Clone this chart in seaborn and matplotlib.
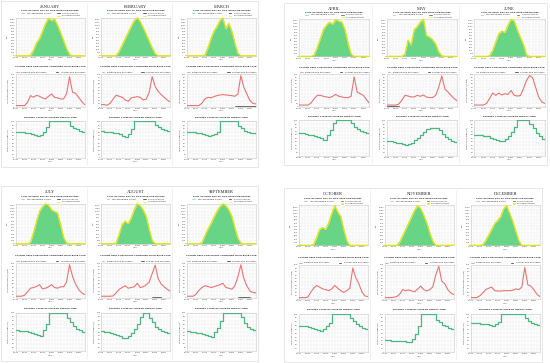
# Peak day PV output, grid purchases and battery state of charge, one column per month

import matplotlib
matplotlib.use("Agg")
import matplotlib.pyplot as plt
from matplotlib.patches import Patch, Rectangle
from matplotlib.lines import Line2D
import numpy as np
import pandas as pd
import seaborn as sns

MONTHS = ['JANUARY', 'FEBRUARY', 'MARCH', 'APRIL', 'MAY', 'JUNE',
          'JULY', 'AUGUST', 'SEPTEMBER', 'OCTOBER', 'NOVEMBER', 'DECEMBER']
HOURS = list(range(24))
HOUR_LABELS = ['12AM', '03AM', '06AM', '09AM', '12PM', '03PM', '06PM', '09PM']

# Total renewable / PV output (kW), hourly
PV_OUTPUT = [
    [0, 0, 0, 0, 0, 20, 180, 420, 560, 800, 1050, 1230, 1150, 1200, 1000, 760, 500, 240, 40, 0, 0, 0, 0, 0],
    [0, 0, 0, 0, 0, 10, 150, 350, 560, 760, 960, 1150, 1240, 1120, 920, 700, 480, 260, 70, 0, 0, 0, 0, 0],
    [0, 0, 0, 0, 0, 0, 20, 250, 550, 800, 950, 1150, 1240, 880, 1060, 800, 420, 80, 0, 0, 0, 0, 0, 0],
    [0, 0, 0, 0, 0, 50, 300, 600, 900, 1050, 1150, 1080, 1240, 1180, 1150, 900, 450, 80, 0, 0, 0, 0, 0, 0],
    [0, 0, 0, 0, 0, 0, 80, 550, 380, 900, 1000, 1150, 1250, 700, 650, 560, 420, 150, 20, 0, 0, 0, 0, 0],
    [0, 0, 0, 0, 0, 20, 200, 480, 760, 850, 800, 1050, 1240, 1200, 900, 650, 420, 60, 0, 0, 0, 0, 0, 0],
    [0, 0, 0, 0, 0, 50, 350, 700, 1000, 1150, 1240, 1200, 1050, 1000, 950, 600, 200, 20, 0, 0, 0, 0, 0, 0],
    [0, 0, 0, 0, 0, 20, 300, 600, 700, 620, 800, 1050, 1240, 1180, 1050, 850, 450, 100, 0, 0, 0, 0, 0, 0],
    [0, 0, 0, 0, 0, 30, 250, 450, 620, 820, 1000, 1150, 1240, 1180, 1050, 850, 500, 180, 20, 0, 0, 0, 0, 0],
    [0, 0, 0, 0, 0, 30, 250, 500, 560, 500, 700, 1000, 1240, 1050, 900, 500, 150, 0, 0, 0, 0, 0, 0, 0],
    [0, 0, 0, 0, 0, 100, 300, 500, 700, 900, 1100, 1240, 1150, 950, 700, 400, 130, 0, 0, 0, 0, 0, 0, 0],
    [0, 0, 0, 0, 20, 150, 320, 500, 680, 780, 900, 1150, 1240, 1000, 750, 450, 150, 0, 0, 0, 0, 0, 0, 0],
]

# Baseline grid purchases (kWh), hourly
BASELINE_GRID = [
    [5, 5, 5, 5, 15, 35, 30, 36, 33, 28, 25, 33, 40, 30, 28, 25, 25, 40, 92, 45, 42, 30, 18, 8],
    [8, 8, 6, 12, 25, 36, 33, 30, 22, 18, 28, 30, 32, 30, 22, 24, 45, 92, 62, 48, 38, 30, 22, 16],
    [5, 5, 5, 5, 5, 12, 25, 30, 28, 32, 35, 37, 38, 37, 36, 35, 33, 40, 95, 60, 40, 20, 12, 10],
    [5, 5, 5, 5, 12, 25, 35, 35, 32, 30, 28, 32, 38, 32, 30, 28, 28, 32, 92, 45, 40, 35, 22, 10],
    [5, 5, 5, 5, 8, 20, 35, 33, 30, 30, 35, 32, 36, 30, 28, 28, 35, 60, 95, 55, 45, 35, 25, 18],
    [5, 5, 5, 5, 10, 25, 42, 35, 42, 36, 40, 38, 50, 35, 33, 34, 55, 80, 96, 90, 60, 30, 15, 10],
    [5, 5, 5, 8, 18, 28, 30, 33, 38, 26, 28, 32, 38, 30, 28, 32, 32, 45, 95, 62, 40, 25, 15, 10],
    [5, 5, 5, 5, 6, 15, 25, 30, 35, 28, 30, 32, 42, 30, 32, 38, 45, 70, 94, 55, 40, 32, 25, 20],
    [5, 5, 5, 10, 22, 30, 35, 33, 30, 32, 35, 38, 42, 30, 28, 25, 35, 60, 95, 55, 35, 20, 16, 15],
    [5, 5, 5, 6, 20, 32, 40, 35, 30, 28, 25, 30, 40, 32, 25, 20, 25, 32, 90, 62, 45, 22, 10, 8],
    [5, 5, 5, 6, 8, 15, 28, 25, 27, 24, 22, 30, 38, 28, 24, 28, 36, 70, 95, 52, 45, 28, 18, 14],
    [5, 5, 5, 10, 18, 28, 32, 35, 25, 24, 24, 25, 25, 25, 26, 30, 28, 35, 92, 42, 38, 28, 15, 8],
]

# System grid purchases (kWh), hourly - mostly zero
SYSTEM_GRID = [
    [0] * 24,
    [0] * 24,
    [0, 0, 0, 0, 0, 0, 0, 0, 0, 0, 0, 0, 0, 0, 0, 0, 3, 3, 3, 3, 3, 3, 3, 3],
    [0] * 24,
    [2, 2, 2, 2, 2, 0, 0, 0, 0, 0, 0, 0, 0, 0, 0, 0, 0, 0, 0, 0, 0, 0, 0, 0],
    [0] * 24,
    [0] * 24,
    [0, 0, 0, 0, 0, 0, 0, 0, 0, 0, 0, 0, 0, 0, 0, 0, 0, 2, 2, 2, 2, 0, 0, 0],
    [0, 0, 0, 0, 0, 0, 0, 0, 0, 0, 0, 0, 0, 0, 0, 0, 0, 2, 2, 2, 2, 2, 0, 0],
    [0, 0, 0, 0, 0, 0, 0, 0, 0, 0, 0, 0, 0, 0, 0, 0, 2, 2, 2, 2, 2, 2, 0, 0],
    [0] * 24,
    [0] * 24,
]

# Battery state of charge (%), hourly
BATTERY_SOC = [
    [72, 71, 70, 69, 68, 66, 62, 60, 63, 70, 85, 100, 100, 100, 100, 100, 100, 100, 88, 82, 78, 74, 71, 69],
    [73, 72, 71, 70, 69, 67, 64, 60, 58, 65, 80, 100, 100, 100, 100, 100, 100, 100, 90, 85, 80, 77, 74, 72],
    [72, 71, 70, 69, 68, 66, 63, 60, 62, 65, 72, 100, 100, 100, 100, 100, 100, 88, 82, 74, 71, 69, 67, 66],
    [65, 64, 62, 60, 58, 56, 53, 50, 46, 58, 72, 92, 100, 100, 100, 100, 100, 92, 83, 76, 71, 68, 65, 63],
    [42, 41, 40, 38, 36, 34, 31, 33, 38, 45, 52, 60, 68, 75, 78, 78, 78, 72, 62, 54, 47, 42, 39, 37],
    [60, 59, 58, 57, 55, 52, 48, 44, 41, 42, 48, 56, 68, 82, 100, 100, 100, 100, 90, 78, 66, 55, 47, 43],
    [55, 54, 53, 52, 50, 48, 45, 42, 40, 55, 72, 100, 100, 100, 100, 100, 100, 86, 76, 66, 59, 55, 51, 48],
    [52, 51, 50, 48, 46, 43, 40, 36, 35, 40, 48, 58, 72, 90, 100, 100, 86, 76, 64, 58, 54, 50, 47, 45],
    [52, 51, 50, 49, 47, 45, 42, 39, 38, 50, 62, 78, 100, 100, 100, 100, 100, 100, 88, 74, 64, 59, 56, 53],
    [70, 69, 68, 66, 64, 62, 58, 55, 60, 68, 78, 100, 100, 100, 100, 100, 100, 90, 82, 75, 69, 65, 62, 60],
    [32, 32, 31, 31, 30, 30, 29, 27, 26, 35, 48, 70, 100, 100, 100, 100, 100, 86, 79, 72, 68, 65, 62, 60],
    [77, 76, 76, 75, 74, 73, 72, 70, 74, 80, 100, 100, 100, 100, 100, 100, 100, 100, 90, 82, 77, 74, 71, 69],
]

GREEN_FILL = '#68d486'
YELLOW = '#dfe31c'
RED = '#e57575'
SOC_GREEN = '#4cb680'
GRID_GRAY = '#e9e9e9'
BOX_GRAY = '#dcdcdc'

W, H = 550, 363
# quadrant frames in pixels (left, top, right, bottom), three months each
QUADRANTS = [(1, 1, 258, 167), (284, 3, 547, 165), (1, 186, 258, 361), (284, 188, 542, 362)]


def rect(left, top, right, bottom):
    # pixel box -> figure fraction [l, b, w, h]
    return [left / W, 1 - bottom / H, (right - left) / W, (bottom - top) / H]


def style_axis(ax, ymax, ystep, ylabel):
    ax.set_xlim(0, 23)
    ax.set_ylim(0, ymax)
    ax.set_xticks(HOURS)
    ax.set_xticklabels([HOUR_LABELS[h // 3] if h % 3 == 0 else '' for h in HOURS])
    ax.set_yticks(np.arange(0, ymax + 1, ystep))
    ax.tick_params(labelsize=1.5, length=0, pad=0.6, colors='#555555')
    ax.grid(True, color=GRID_GRAY, lw=0.3)
    for sp in ax.spines.values():
        sp.set_color('#c8c8c8')
        sp.set_linewidth(0.4)
    ax.set_xlabel('Hour', fontsize=1.6, labelpad=0.8, color='#444444')
    ax.set_ylabel(ylabel, fontsize=1.6, labelpad=0.8, color='#444444')


def draw_month(fig, idx, box, col):
    ql, qt, qr, qb = box
    cw = (qr - ql) / 3
    qh = qb - qt
    x0 = ql + col * cw
    left, right = x0 + 0.17 * cw, x0 + 0.975 * cw
    mid = (left + right) / 2

    def y(frac):
        return qt + frac * qh

    # month title and panel titles
    fig.text(mid / W, 1 - y(0.035) / H, MONTHS[idx], ha='center', va='center',
             fontsize=3.2, family='Liberation Serif', color='#222222')
    fig.text(mid / W, 1 - y(0.058) / H, 'PLOT OF PEAK DAY PV AND GRID PURCHASES',
             ha='center', va='center', fontsize=1.6, weight='bold', color='#333333')
    fig.text(mid / W, 1 - y(0.397) / H, 'SYSTEM GRID PURCHASES COMPARED WITH BASE CASE',
             ha='center', va='center', fontsize=1.6, weight='bold', color='#333333')
    fig.text(mid / W, 1 - y(0.700) / H, 'BATTERY STATE OF CHARGE VERSUS TIME',
             ha='center', va='center', fontsize=1.6, weight='bold', color='#333333')

    # panel 1: renewable output area
    ax1 = fig.add_axes(rect(left, y(0.10), right, y(0.33)))
    df = pd.DataFrame({'hour': HOURS, 'pv': PV_OUTPUT[idx]})
    ax1.fill_between(df['hour'], df['pv'], color=GREEN_FILL, lw=0, zorder=2)
    sns.lineplot(data=df, x='hour', y='pv', color=YELLOW, lw=1.0, ax=ax1, clip_on=False, zorder=3)
    style_axis(ax1, 1250, 100, 'kW')
    handles = [Patch(facecolor=GREEN_FILL, label='Total Renewable Output'),
               Patch(alpha=0, label=''),
               Patch(facecolor='black', label='Grid Purchases'),
               Patch(facecolor=YELLOW, label='PV Power Output')]
    ax1.legend(handles=handles, ncol=2, loc='lower center', bbox_to_anchor=(0.5, 0.99),
               fontsize=1.5, frameon=False, handlelength=2.2, handleheight=1.2,
               handletextpad=0.6, columnspacing=2.5, labelspacing=0.2, borderpad=0.1)

    # panel 2: grid purchases
    ax2 = fig.add_axes(rect(left, y(0.44), right, y(0.64)))
    df2 = pd.DataFrame({'hour': HOURS, 'base': BASELINE_GRID[idx],
                        'system': [v if v > 0 else np.nan for v in SYSTEM_GRID[idx]]})
    sns.lineplot(data=df2, x='hour', y='base', color=RED, lw=0.8, ax=ax2, zorder=3)
    sns.lineplot(data=df2, x='hour', y='system', color='#333333', lw=0.5, ax=ax2, zorder=3)
    style_axis(ax2, 100, 10, 'Grid Purchases (kWh)')
    handles = [Patch(facecolor=RED, label='Baseline Grid Purchases'),
               Patch(facecolor='black', label='System Grid Purchases')]
    ax2.legend(handles=handles, ncol=2, loc='lower center', bbox_to_anchor=(0.5, 0.99),
               fontsize=1.5, frameon=False, handlelength=2.2, handleheight=1.2,
               handletextpad=0.6, columnspacing=4, borderpad=0.1)

    # panel 3: battery state of charge
    ax3 = fig.add_axes(rect(left, y(0.725), right, y(0.945)))
    df3 = pd.DataFrame({'hour': HOURS, 'soc': BATTERY_SOC[idx]})
    sns.lineplot(data=df3, x='hour', y='soc', color=SOC_GREEN, lw=0.9, ax=ax3,
                 drawstyle='steps-post', zorder=3)
    style_axis(ax3, 100, 10, 'State of Charge (%)')


sns.set_theme(style='whitegrid')
plt.rcParams['font.family'] = ['DejaVu Sans']

fig = plt.figure(figsize=(W / 100, H / 100), dpi=100)
fig.patch.set_facecolor('white')

for q, box in enumerate(QUADRANTS):
    ql, qt, qr, qb = box
    # quadrant frame and column separators
    fig.add_artist(Rectangle((ql / W, 1 - qb / H), (qr - ql) / W, (qb - qt) / H,
                             transform=fig.transFigure, fill=False, ec=BOX_GRAY, lw=0.5))
    for c in (1, 2):
        xs = (ql + c * (qr - ql) / 3) / W
        fig.add_artist(Line2D([xs, xs], [1 - (qb - 2) / H, 1 - (qt + 2) / H],
                              transform=fig.transFigure, color='#e6e6e6', lw=0.4))
    for col in range(3):
        draw_month(fig, q * 3 + col, box, col)

fig.savefig('out.png', dpi=100, facecolor='white')
